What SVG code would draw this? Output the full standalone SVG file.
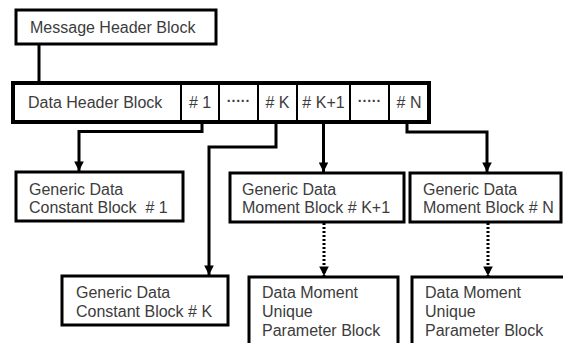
<svg xmlns="http://www.w3.org/2000/svg" width="563" height="343" viewBox="0 0 563 343">
<style>
.box{fill:#fff;stroke:#000;stroke-width:3}
.cell{fill:none;stroke:#000;stroke-width:2}
.t{font-family:"Liberation Sans",Arial,sans-serif;font-size:16px;fill:#3c3c3c}
.dots{font-family:"Liberation Sans",Arial,sans-serif;font-size:14px;font-weight:bold;fill:#3c3c3c}
.c{stroke:#000;stroke-width:3;fill:none}
.d{stroke:#000;stroke-width:3;fill:none;stroke-dasharray:2 2}
</style>
<defs>
<marker id="ah" viewBox="0 0 10 10" refX="10" refY="5" markerWidth="3.2" markerHeight="3.2" orient="auto" markerUnits="strokeWidth">
<path d="M0,0 L10,5 L0,10 z" fill="#000"/>
</marker>
</defs>
<g id="connectors">
<line class="c" x1="39" y1="44" x2="39" y2="83"/>
<polyline class="c" points="202,122 202,131.5 79,131.5 79,171" marker-end="url(#ah)"/>
<polyline class="c" points="276,122 276,147 209,147 209,275" marker-end="url(#ah)"/>
<line class="c" x1="323.5" y1="122" x2="323.5" y2="172" marker-end="url(#ah)"/>
<polyline class="c" points="407,122 407,132 487,132 487,172" marker-end="url(#ah)"/>
<line class="d" x1="324" y1="223" x2="324" y2="276" marker-end="url(#ah)"/>
<line class="d" x1="488" y1="223" x2="488" y2="276" marker-end="url(#ah)"/>
</g>
<g id="message-header">
<rect class="box" x="16" y="10" width="200" height="34"/>
<text class="t" x="30" y="32.5">Message Header Block</text>
</g>
<g id="data-header">
<rect x="13" y="83" width="416" height="39" fill="#fff"/>
<line class="cell" x1="181" y1="83" x2="181" y2="122"/>
<line class="cell" x1="219" y1="83" x2="219" y2="122"/>
<line class="cell" x1="258" y1="83" x2="258" y2="122"/>
<line class="cell" x1="297" y1="83" x2="297" y2="122"/>
<line class="cell" x1="350" y1="83" x2="350" y2="122"/>
<line class="cell" x1="389" y1="83" x2="389" y2="122"/>
<rect x="13" y="83" width="416" height="39" fill="none" stroke="#000" stroke-width="4"/>
<text class="t" x="28" y="107.5">Data Header Block</text>
<text class="t" x="200" y="107.5" text-anchor="middle"># 1</text>
<text class="dots" x="238.5" y="106" text-anchor="middle">·····</text>
<text class="t" x="277.5" y="107.5" text-anchor="middle"># K</text>
<text class="t" x="323.5" y="107.5" text-anchor="middle"># K+1</text>
<text class="dots" x="369.5" y="106" text-anchor="middle">·····</text>
<text class="t" x="409" y="107.5" text-anchor="middle"># N</text>
</g>
<g id="constant-1">
<rect class="box" x="16" y="172" width="167" height="49"/>
<text class="t" x="29" y="195">Generic Data</text>
<text class="t" x="29" y="213" xml:space="preserve">Constant Block  # 1</text>
</g>
<g id="constant-k">
<rect class="box" x="62" y="276" width="166" height="49"/>
<text class="t" x="76" y="298">Generic Data</text>
<text class="t" x="76" y="317">Constant Block # K</text>
</g>
<g id="moment-k1">
<rect class="box" x="230" y="173" width="174" height="49"/>
<text class="t" x="242" y="195">Generic Data</text>
<text class="t" x="242" y="213">Moment Block # K+1</text>
</g>
<g id="moment-n">
<rect class="box" x="410" y="173" width="151" height="49"/>
<text class="t" x="423" y="195">Generic Data</text>
<text class="t" x="423" y="213">Moment Block # N</text>
</g>
<g id="unique-k1">
<rect class="box" x="249" y="277" width="149" height="80"/>
<text class="t" x="262" y="298">Data Moment</text>
<text class="t" x="262" y="317">Unique</text>
<text class="t" x="262" y="336">Parameter Block</text>
</g>
<g id="unique-n">
<rect class="box" x="412" y="277" width="160" height="80"/>
<text class="t" x="425" y="298">Data Moment</text>
<text class="t" x="425" y="317">Unique</text>
<text class="t" x="425" y="336">Parameter Block</text>
</g>
</svg>
